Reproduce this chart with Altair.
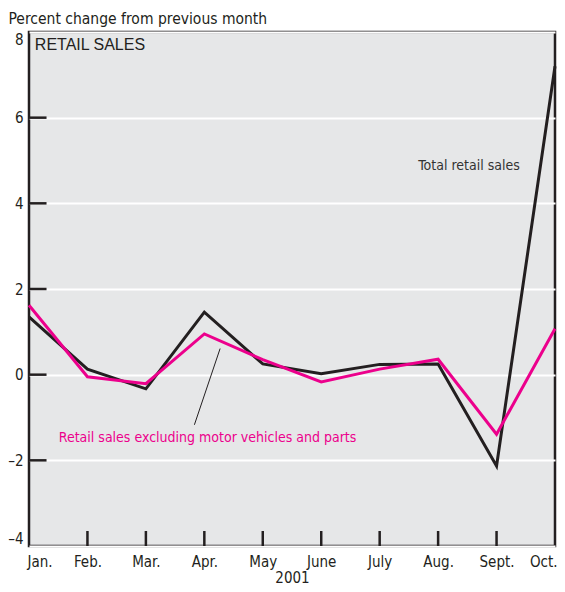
import altair as alt
import pandas as pd

months = ["Jan.", "Feb.", "Mar.", "Apr.", "May", "June", "July", "Aug.", "Sept.", "Oct."]
total_retail = [1.35, 0.13, -0.33, 1.46, 0.25, 0.02, 0.24, 0.25, -2.13, 7.2]
excl_motor = [1.62, -0.05, -0.21, 0.95, 0.35, -0.17, 0.13, 0.36, -1.39, 1.07]
y_ticks = [-4, -2, 0, 2, 4, 6, 8]

NARROW = "Liberation Sans Narrow, DejaVu Sans Condensed, sans-serif"
MAGENTA = "#ec008c"
DARK = "#231f20"

idx = list(range(len(months)))
df = pd.DataFrame({
    "i": idx * 2,
    "value": total_retail + excl_motor,
    "series": ["Total retail sales"] * len(idx) + ["Retail sales excluding motor vehicles and parts"] * len(idx),
})

label_expr = "[" + ",".join("'" + m + "'" for m in months) + "][datum.value]"

x_scale = alt.Scale(domain=[0, 9], nice=False, zero=False)
y_scale = alt.Scale(domain=[-4, 8], nice=False, zero=False)

x_axis = alt.Axis(values=idx, labelExpr=label_expr, ticks=False, domain=False, grid=False,
                  labelFont=NARROW, labelFontSize=15, labelColor=DARK, labelPadding=8,
                  labelFlush=True, labelFlushOffset=2,
                  title="2001", titleFont=NARROW, titleFontSize=15, titleFontWeight="normal",
                  titleColor=DARK, titlePadding=1)
y_axis = alt.Axis(values=y_ticks, ticks=False, domain=False, grid=True, gridColor="white",
                  gridWidth=2, gridOpacity=1, labelFont=NARROW, labelFontSize=15,
                  labelExpr="replace(datum.label, '\u2212', '\u2013')",
                  labelColor=DARK, labelPadding=6, labelFlush=True,
                  title="Percent change from previous month", titleFont=NARROW,
                  titleFontSize=15.5, titleFontWeight="normal", titleColor=DARK,
                  titleAngle=0, titleAlign="left", titleBaseline="alphabetic",
                  titleX=-21, titleY=-9)

base = alt.Chart(df)

lines = base.mark_line(strokeWidth=3, strokeJoin="miter").encode(
    x=alt.X("i:Q", scale=x_scale, axis=x_axis),
    y=alt.Y("value:Q", scale=y_scale, axis=y_axis),
    color=alt.Color("series:N", legend=None,
                    scale=alt.Scale(domain=["Total retail sales", "Retail sales excluding motor vehicles and parts"],
                                    range=[DARK, MAGENTA])),
    order=alt.Order("series:N", sort="ascending"),
)

# inside tick marks
ytick_df = pd.DataFrame({"y": y_ticks[1:-1], "x0": [0] * 5, "x1": [0.3] * 5})
yticks = alt.Chart(ytick_df).mark_rule(color=DARK, strokeWidth=2.5).encode(
    x=alt.X("x0:Q", scale=x_scale), x2="x1:Q", y=alt.Y("y:Q", scale=y_scale))

xtick_df = pd.DataFrame({"x": idx[1:-1], "y0": [-4] * 8, "y1": [-3.65] * 8})
xticks = alt.Chart(xtick_df).mark_rule(color=DARK, strokeWidth=2.5).encode(
    x=alt.X("x:Q", scale=x_scale), y=alt.Y("y0:Q", scale=y_scale), y2="y1:Q")

# annotations
leader_df = pd.DataFrame({"x0": [2.83], "y0": [-1.17], "x1": [3.27], "y1": [0.61]})
leader = alt.Chart(leader_df).mark_rule(color=DARK, strokeWidth=1).encode(
    x=alt.X("x0:Q", scale=x_scale), y=alt.Y("y0:Q", scale=y_scale), x2="x1:Q", y2="y1:Q")

lab_df = pd.DataFrame({
    "x": [6.66, 0.51, 0.1],
    "y": [4.88, -1.47, 7.7],
    "text": ["Total retail sales", "Retail sales excluding motor vehicles and parts", "RETAIL SALES"],
})
lab1 = alt.Chart(lab_df.iloc[[0]]).mark_text(align="left", baseline="middle", font=NARROW,
                                              fontSize=14, color="#333333").encode(
    x=alt.X("x:Q", scale=x_scale), y=alt.Y("y:Q", scale=y_scale), text="text:N")
lab2 = alt.Chart(lab_df.iloc[[1]]).mark_text(align="left", baseline="middle", font=NARROW,
                                              fontSize=14, color=MAGENTA).encode(
    x=alt.X("x:Q", scale=x_scale), y=alt.Y("y:Q", scale=y_scale), text="text:N")
lab3 = alt.Chart(lab_df.iloc[[2]]).mark_text(align="left", baseline="middle",
                                              font="Liberation Sans, Arial, sans-serif",
                                              fontSize=16, color=DARK).encode(
    x=alt.X("x:Q", scale=x_scale), y=alt.Y("y:Q", scale=y_scale), text="text:N")

chart = alt.layer(lines, yticks, xticks, leader, lab1, lab2, lab3).properties(
    width=526, height=514,
    background="white",
    autosize=alt.AutoSizeParams(type="none"),
    padding={"left": 21, "top": 24, "right": 2, "bottom": 40},
).configure_view(
    fill="#e6e7e8", stroke=DARK, strokeWidth=2.5
)

chart.save("out.html", embed_options={"renderer": "svg", "actions": False})
